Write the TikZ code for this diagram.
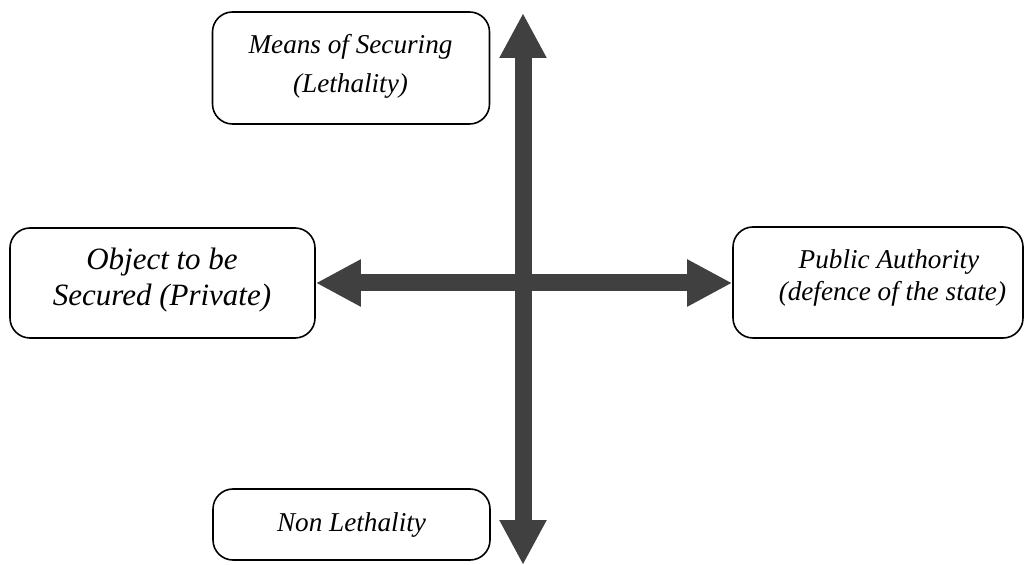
\documentclass[tikz,border=0pt]{standalone}
\usepackage{fontspec}
\setmainfont{Liberation Serif}[ItalicFont={Liberation Serif Italic}]
\usetikzlibrary{arrows.meta}
\definecolor{arrowgray}{RGB}{64,64,64}

\begin{document}
\begin{tikzpicture}[x=0.5pt,y=-0.5pt,
    box/.style={draw,thick,rounded corners=10pt},
    boxtext/.style={align=center,inner sep=0pt,font=\itshape\fontsize{13.6}{15.6}\selectfont},
    bigarrow/.style={arrowgray,line width=8.5pt,{Triangle[width=22pt,length=22.5pt]}-{Triangle[width=22pt,length=22.5pt]}}]
    \useasboundingbox (0,0) rectangle (1031,565);

    % Kaesten
    \node[box,minimum width=138.5pt,minimum height=56pt] (means) at (351,68) {};
    \node[boxtext,font=\itshape\fontsize{13.6}{19.5}\selectfont] (meanstext) at (350.5,66) {Means of Securing\\(Lethality)};
    \node[box,minimum width=152.5pt,minimum height=55pt] (object) at (162.5,283) {};
    \node[boxtext,font=\itshape\fontsize{15.5}{17.8}\selectfont] (objecttext) at (162,280) {Object to be\\Secured (Private)};
    \node[box,minimum width=145pt,minimum height=55.5pt] (public) at (878,282.5) {};
    \node[boxtext] (publictext) at (889,278) {Public Authority\\\ (defence of the state)};
    \node[box,minimum width=138.5pt,minimum height=35.5pt] (nonlethal) at (351.5,524.5) {};
    \node[boxtext] (nonlethaltext) at (351.5,524.5) {Non Lethality};

    % Achsen
    \coordinate (up) at (523,13);
    \coordinate (down) at (523,565);
    \draw[bigarrow] (up) -- (down);
    \draw[bigarrow] (object.east) -- (object.east -| public.west);
\end{tikzpicture}
\end{document}
